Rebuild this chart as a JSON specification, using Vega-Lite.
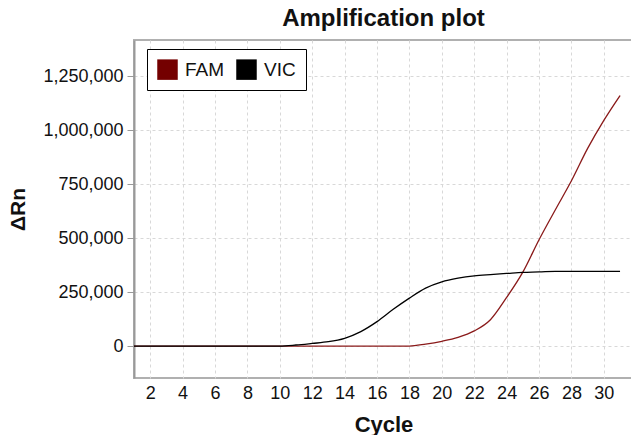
{
  "$schema": "https://vega.github.io/schema/vega-lite/v6.json",
  "autosize": "none",
  "width": 499,
  "height": 338,
  "padding": {"left": 134, "top": 40, "right": 0, "bottom": 57},
  "background": "white",
  "title": {
    "text": "Amplification plot",
    "font": "Liberation Sans",
    "fontSize": 24,
    "fontWeight": "bold",
    "color": "#111",
    "anchor": "middle",
    "offset": 9
  },
  "config": {
    "font": "Liberation Sans",
    "view": {"stroke": "#b0b0b0", "strokeWidth": 2}
  },
  "data": {
    "values": [
      {"cycle": 1, "dye": "FAM", "rn": 0}, {"cycle": 2, "dye": "FAM", "rn": 0}, {"cycle": 3, "dye": "FAM", "rn": 0},
      {"cycle": 4, "dye": "FAM", "rn": 0}, {"cycle": 5, "dye": "FAM", "rn": 0}, {"cycle": 6, "dye": "FAM", "rn": 0},
      {"cycle": 7, "dye": "FAM", "rn": 0}, {"cycle": 8, "dye": "FAM", "rn": 0}, {"cycle": 9, "dye": "FAM", "rn": 0},
      {"cycle": 10, "dye": "FAM", "rn": 0}, {"cycle": 11, "dye": "FAM", "rn": 0}, {"cycle": 12, "dye": "FAM", "rn": 0},
      {"cycle": 13, "dye": "FAM", "rn": 0}, {"cycle": 14, "dye": "FAM", "rn": 0}, {"cycle": 15, "dye": "FAM", "rn": 0},
      {"cycle": 16, "dye": "FAM", "rn": 0}, {"cycle": 17, "dye": "FAM", "rn": 0}, {"cycle": 18, "dye": "FAM", "rn": 0},
      {"cycle": 19, "dye": "FAM", "rn": 9000}, {"cycle": 20, "dye": "FAM", "rn": 22000}, {"cycle": 21, "dye": "FAM", "rn": 40000},
      {"cycle": 22, "dye": "FAM", "rn": 70000}, {"cycle": 23, "dye": "FAM", "rn": 122000}, {"cycle": 24, "dye": "FAM", "rn": 225000},
      {"cycle": 25, "dye": "FAM", "rn": 342000}, {"cycle": 26, "dye": "FAM", "rn": 492000}, {"cycle": 27, "dye": "FAM", "rn": 630000},
      {"cycle": 28, "dye": "FAM", "rn": 765000}, {"cycle": 29, "dye": "FAM", "rn": 915000}, {"cycle": 30, "dye": "FAM", "rn": 1045000},
      {"cycle": 31, "dye": "FAM", "rn": 1160000},
      {"cycle": 1, "dye": "VIC", "rn": 0}, {"cycle": 2, "dye": "VIC", "rn": 0}, {"cycle": 3, "dye": "VIC", "rn": 0},
      {"cycle": 4, "dye": "VIC", "rn": 0}, {"cycle": 5, "dye": "VIC", "rn": 0}, {"cycle": 6, "dye": "VIC", "rn": 0},
      {"cycle": 7, "dye": "VIC", "rn": 0}, {"cycle": 8, "dye": "VIC", "rn": 0}, {"cycle": 9, "dye": "VIC", "rn": 0},
      {"cycle": 10, "dye": "VIC", "rn": 0}, {"cycle": 11, "dye": "VIC", "rn": 4700}, {"cycle": 12, "dye": "VIC", "rn": 12000},
      {"cycle": 13, "dye": "VIC", "rn": 20000}, {"cycle": 14, "dye": "VIC", "rn": 36000}, {"cycle": 15, "dye": "VIC", "rn": 67000},
      {"cycle": 16, "dye": "VIC", "rn": 113000}, {"cycle": 17, "dye": "VIC", "rn": 170000}, {"cycle": 18, "dye": "VIC", "rn": 222000},
      {"cycle": 19, "dye": "VIC", "rn": 268000}, {"cycle": 20, "dye": "VIC", "rn": 297000}, {"cycle": 21, "dye": "VIC", "rn": 314000},
      {"cycle": 22, "dye": "VIC", "rn": 325000}, {"cycle": 23, "dye": "VIC", "rn": 331000}, {"cycle": 24, "dye": "VIC", "rn": 336000},
      {"cycle": 25, "dye": "VIC", "rn": 341000}, {"cycle": 26, "dye": "VIC", "rn": 343000}, {"cycle": 27, "dye": "VIC", "rn": 346000},
      {"cycle": 28, "dye": "VIC", "rn": 346000}, {"cycle": 29, "dye": "VIC", "rn": 346000}, {"cycle": 30, "dye": "VIC", "rn": 346000},
      {"cycle": 31, "dye": "VIC", "rn": 346000}
    ]
  },
  "mark": {"type": "line", "strokeWidth": 1.3, "interpolate": "monotone", "clip": true},
  "encoding": {
    "x": {
      "field": "cycle",
      "type": "quantitative",
      "scale": {"domain": [1, 31.8], "nice": false, "zero": false},
      "axis": {
        "title": "Cycle",
        "titleFontSize": 22,
        "titleFontWeight": "bold",
        "titleColor": "#111",
        "titlePadding": 12,
        "values": [2, 4, 6, 8, 10, 12, 14, 16, 18, 20, 22, 24, 26, 28, 30],
        "labelFontSize": 18,
        "labelColor": "#111",
        "labelPadding": 6,
        "ticks": false,
        "domain": false,
        "grid": true,
        "gridColor": "#d8d8d8",
        "gridDash": [3, 3],
        "gridWidth": 1
      }
    },
    "y": {
      "field": "rn",
      "type": "quantitative",
      "scale": {"domain": [-148000, 1417000], "nice": false, "zero": false},
      "axis": {
        "title": "ΔRn",
        "titleFontSize": 21,
        "titleFontWeight": "bold",
        "titleColor": "#111",
        "titlePadding": 14,
        "values": [0, 250000, 500000, 750000, 1000000, 1250000],
        "format": ",d",
        "labelFontSize": 18,
        "labelColor": "#111",
        "labelPadding": 4,
        "tickSize": 7,
        "tickColor": "#999",
        "domainColor": "#999",
        "domainWidth": 2,
        "grid": true,
        "gridColor": "#d8d8d8",
        "gridDash": [3, 3],
        "gridWidth": 1
      }
    },
    "color": {
      "field": "dye",
      "type": "nominal",
      "scale": {"domain": ["FAM", "VIC"], "range": ["#8a1a1a", "#000000"]},
      "legend": {
        "title": null,
        "orient": "none",
        "legendX": 13,
        "legendY": 9,
        "direction": "horizontal",
        "symbolType": "square",
        "symbolSize": 420,
        "symbolStrokeWidth": 0,
        "labelFontSize": 19,
        "labelColor": "#111",
        "labelOffset": 7,
        "columnPadding": 11,
        "padding": 10,
        "strokeColor": "#000",
        "fillColor": "white",
        "encode": {
          "symbols": {"update": {"fill": [{"test": "datum.value === 'FAM'", "value": "#740000"}, {"value": "#000000"}], "stroke": {"value": "transparent"}}}
        }
      }
    }
  }
}
